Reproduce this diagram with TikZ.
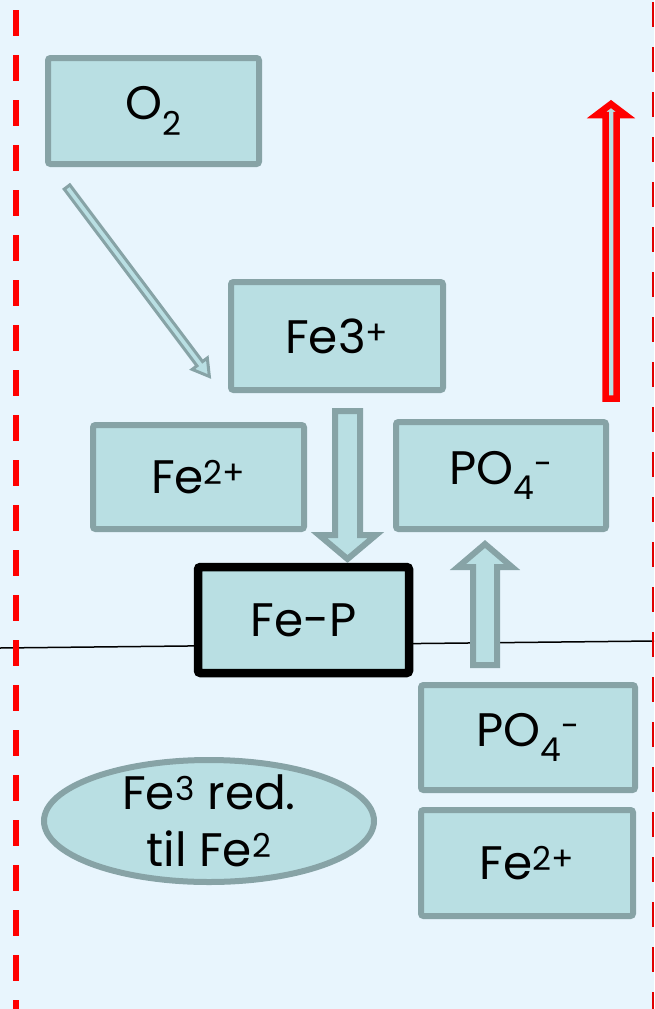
\documentclass[tikz,border=0pt]{standalone}
\usepackage{fontspec}
\setmainfont{Poppins}
\usetikzlibrary{shapes.geometric}
\definecolor{bg}{HTML}{E8F5FD}
\definecolor{boxfill}{HTML}{B9DFE3}
\definecolor{boxline}{HTML}{87A3A6}
\begin{document}
\begin{tikzpicture}[x=1pt,y=-1pt,
  box/.style={draw=boxline, fill=boxfill, line width=6pt, rounded corners=2.5pt,
    minimum width=211pt, minimum height=106pt, inner sep=0pt,
    font=\fontsize{47}{57}\selectfont},
  blockarrow/.style={draw=boxline, fill=boxfill, line width=6pt, line join=miter},
  redarrow/.style={draw=red, fill=boxfill, line width=6.5pt, line join=miter},
  leftdash/.style={red, line width=6pt, dash pattern=on 26pt off 19pt},
  rightdash/.style={red!88!black, line width=2.5pt, dash pattern=on 25pt off 20pt},
  txt/.style={align=center, inner sep=0pt, font=\fontsize{47}{57}\selectfont}
]
\fill[bg] (0,0) rectangle (654,1009);
\useasboundingbox (0,0) rectangle (654,1009);

% horizontal line
\coordinate (hl) at (0,648);
\coordinate (hr) at (654,641);
\draw[line width=1.5pt] (hl) -- (hr);

% dashed boundaries
\coordinate (ldt) at (16,10);
\coordinate (ldb) at (16,1009);
\coordinate (rdt) at (653,2);
\coordinate (rdb) at (653,1009);
\draw[leftdash] (ldt) -- (ldb);
\draw[rightdash] (rdt) -- (rdb);

% boxes
\node[box] (o2) at (153.5,111) {O\textsubscript{2}};
\node[box, minimum width=212pt, minimum height=108pt] (fe3) at (337,336) {Fe3\textsuperscript{+}};
\node[box, minimum height=104pt] (fe2a) at (198.5,477) {Fe\textsuperscript{2+}};
\node[box, minimum width=210pt, minimum height=107pt] (po4a) at (501,475.5) {PO\textsubscript{4}\textsuperscript{-}};
\node[box, draw=black, line width=8.5pt, minimum height=106pt] (fep) at (303.5,620) {Fe-P};
\node[box, minimum width=214pt, minimum height=105pt] (po4b) at (528,737.5) {PO\textsubscript{4}\textsuperscript{-}};
\node[box, minimum width=212pt, minimum height=106pt] (fe2b) at (527,863) {Fe\textsuperscript{2+}};

% ellipse
\node[ellipse, draw=boxline, fill=boxfill, line width=6pt, minimum width=330pt,
  minimum height=122pt, inner sep=0pt] (ell) at (209,821) {};
\node[txt] (elltxt) at (ell) {Fe\textsuperscript{3} red.\\til Fe\textsuperscript{2}};

% block arrows
\draw[blockarrow] (335,411) -- (360,411) -- (360,535) -- (376,535) -- (347.5,559)
  -- (319,535) -- (335,535) -- cycle;
\draw[blockarrow] (473,665) -- (473,567) -- (458,567) -- (485,544) -- (512,567)
  -- (497,567) -- (497,665) -- cycle;
\begin{scope}[shift={(67,187)}, rotate=-53.08]
  \draw[blockarrow, line width=3pt] (0,-3.5) -- (221,-3.5) -- (221,-9.5) -- (237,0)
    -- (221,9.5) -- (221,3.5) -- (0,3.5) -- cycle;
\end{scope}

% red arrow
\draw[redarrow] (605.5,398.5) -- (605.5,115) -- (596.5,115) -- (611,104) -- (625.5,115)
  -- (616.5,115) -- (616.5,398.5) -- cycle;
\end{tikzpicture}
\end{document}
